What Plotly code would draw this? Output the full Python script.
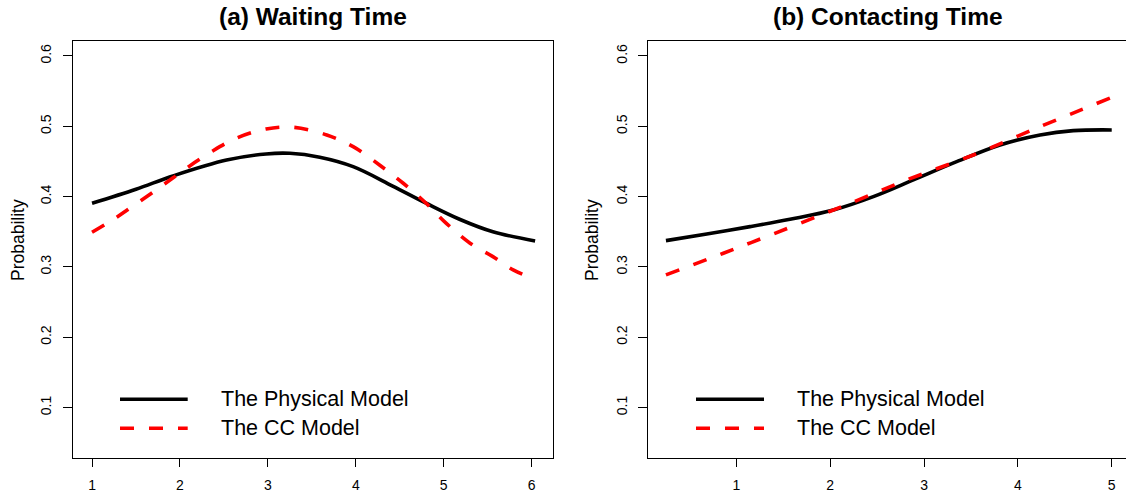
import plotly.graph_objects as go

# ---------------- data ----------------
wait_x_phys = [1.0, 1.5, 1.92, 2.53, 2.98, 3.25, 3.59, 3.97, 4.42, 4.80, 5.18, 5.56, 6.04]
wait_y_phys = [0.3906, 0.4105, 0.4294, 0.452, 0.4607, 0.4616, 0.456, 0.4426, 0.415, 0.3906, 0.3678, 0.350, 0.337]

wait_x_cc = [1.0, 1.26, 1.54, 1.81, 2.07, 2.36, 2.64, 2.98, 3.29, 3.67, 3.97, 4.27, 4.54, 4.80, 5.03, 5.30, 5.56, 5.79, 6.04]
wait_y_cc = [0.3493, 0.369, 0.393, 0.4166, 0.440, 0.464, 0.483, 0.4962, 0.4986, 0.4877, 0.471, 0.445, 0.419, 0.3906, 0.362, 0.3337, 0.3146, 0.2957, 0.2825]

cont_x_phys = [0.25, 0.685, 1.146, 1.572, 2.034, 2.46, 2.886, 3.348, 3.81, 4.236, 4.59, 5.0]
cont_y_phys = [0.3374, 0.3469, 0.3573, 0.3678, 0.381, 0.400, 0.4237, 0.4497, 0.4735, 0.4877, 0.4938, 0.4948]

cont_x_cc = [0.25, 0.862, 1.394, 1.963, 2.283, 2.816, 3.525, 4.236, 5.0]
cont_y_cc = [0.2886, 0.3195, 0.3469, 0.3772, 0.3943, 0.4237, 0.4592, 0.4995, 0.5410]

y_ticks = [0.1, 0.2, 0.3, 0.4, 0.5, 0.6]
y_tick_labels = ["0.1", "0.2", "0.3", "0.4", "0.5", "0.6"]
x_ticks_a = [1, 2, 3, 4, 5, 6]
x_ticks_b = [1, 2, 3, 4, 5]

titles = ["(a) Waiting Time", "(b) Contacting Time"]
series_names = ["The Physical Model", "The CC Model"]
y_title = "Probability"

# ---------------- layout helpers ----------------
W, H = 1126, 496
FONT = "Liberation Sans, Arial, Helvetica, sans-serif"
BLACK_W = 3.6
DASH = "14px,15px"


def px_x(p):
    return p / W


def px_y(p):
    return (H - p) / H


fig = go.Figure()

# panel (a)
fig.add_trace(go.Scatter(x=wait_x_phys, y=wait_y_phys, mode="lines", xaxis="x", yaxis="y",
                         line=dict(color="black", width=BLACK_W, shape="spline", smoothing=1.0),
                         showlegend=False, name=series_names[0]))
fig.add_trace(go.Scatter(x=wait_x_cc, y=wait_y_cc, mode="lines", xaxis="x", yaxis="y",
                         line=dict(color="#ff0000", width=BLACK_W, dash=DASH, shape="spline", smoothing=1.0),
                         showlegend=False, name=series_names[1]))
# panel (b)
fig.add_trace(go.Scatter(x=cont_x_phys, y=cont_y_phys, mode="lines", xaxis="x2", yaxis="y2",
                         line=dict(color="black", width=BLACK_W, shape="spline", smoothing=1.0),
                         showlegend=False, name=series_names[0]))
fig.add_trace(go.Scatter(x=cont_x_cc, y=cont_y_cc, mode="lines", xaxis="x2", yaxis="y2",
                         line=dict(color="#ff0000", width=BLACK_W, dash=DASH, shape="spline", smoothing=1.0),
                         showlegend=False, name=series_names[1]))

tick_font = dict(family=FONT, size=14, color="black")
common_x = dict(showline=True, linecolor="black", linewidth=1, ticks="outside", ticklen=8,
                tickcolor="black", tickwidth=1, showgrid=False, zeroline=False, tickfont=tick_font,
                ticklabelstandoff=6)
common_y = dict(showline=True, linecolor="black", linewidth=1, ticks="outside", ticklen=9,
                tickcolor="black", tickwidth=1, showgrid=False, zeroline=False, tickfont=tick_font,
                tickvals=y_ticks, ticktext=y_tick_labels, tickangle=-90,
                range=[0.0278, 0.6213], ticklabelstandoff=6)

ydom = [px_y(458.3), px_y(41)]

fig.update_layout(
    width=W, height=H,
    margin=dict(l=0, r=0, t=0, b=0),
    paper_bgcolor="white", plot_bgcolor="white",
    showlegend=False,
    xaxis=dict(common_x, domain=[px_x(72.7), px_x(552.7)], range=[0.78, 6.24],
               tickvals=x_ticks_a, anchor="y", mirror=True),
    yaxis=dict(common_y, domain=ydom, anchor="x", mirror=True),
    xaxis2=dict(common_x, domain=[px_x(648.3), 1.0], range=[0.062, 5.152],
                tickvals=x_ticks_b, anchor="y2", mirror=True),
    yaxis2=dict(common_y, domain=ydom, anchor="x2", mirror=False),
)

annotations = []
# titles
for cx, t in zip([312.7, 887.5], titles):
    annotations.append(dict(x=px_x(cx), y=px_y(16.5), xref="paper", yref="paper",
                            text="<b>" + t + "</b>", showarrow=False, xanchor="center", yanchor="middle",
                            font=dict(family=FONT, size=24.5, color="black")))
# y titles
for cx in [18, 592]:
    annotations.append(dict(x=px_x(cx), y=px_y(240), xref="paper", yref="paper",
                            text=y_title, showarrow=False, textangle=-90,
                            xanchor="center", yanchor="middle",
                            font=dict(family=FONT, size=17.5, color="black")))

shapes = []
# legends
for (lx0, lx1, tx) in [(120, 187.7, 219.3), (696, 764, 795)]:
    for ly, name, col, dash in [(399.3, series_names[0], "black", "solid"),
                                (428.3, series_names[1], "#ff0000", DASH)]:
        shapes.append(dict(type="line", xref="paper", yref="paper",
                           x0=px_x(lx0), x1=px_x(lx1), y0=px_y(ly), y1=px_y(ly),
                           line=dict(color=col, width=BLACK_W, dash=dash)))
        annotations.append(dict(x=px_x(tx), y=px_y(ly), xref="paper", yref="paper",
                                text=name, showarrow=False, xanchor="left", yanchor="middle",
                                font=dict(family=FONT, size=21.5, color="black")))

fig.update_layout(annotations=annotations, shapes=shapes)

fig.write_html("out.html")
